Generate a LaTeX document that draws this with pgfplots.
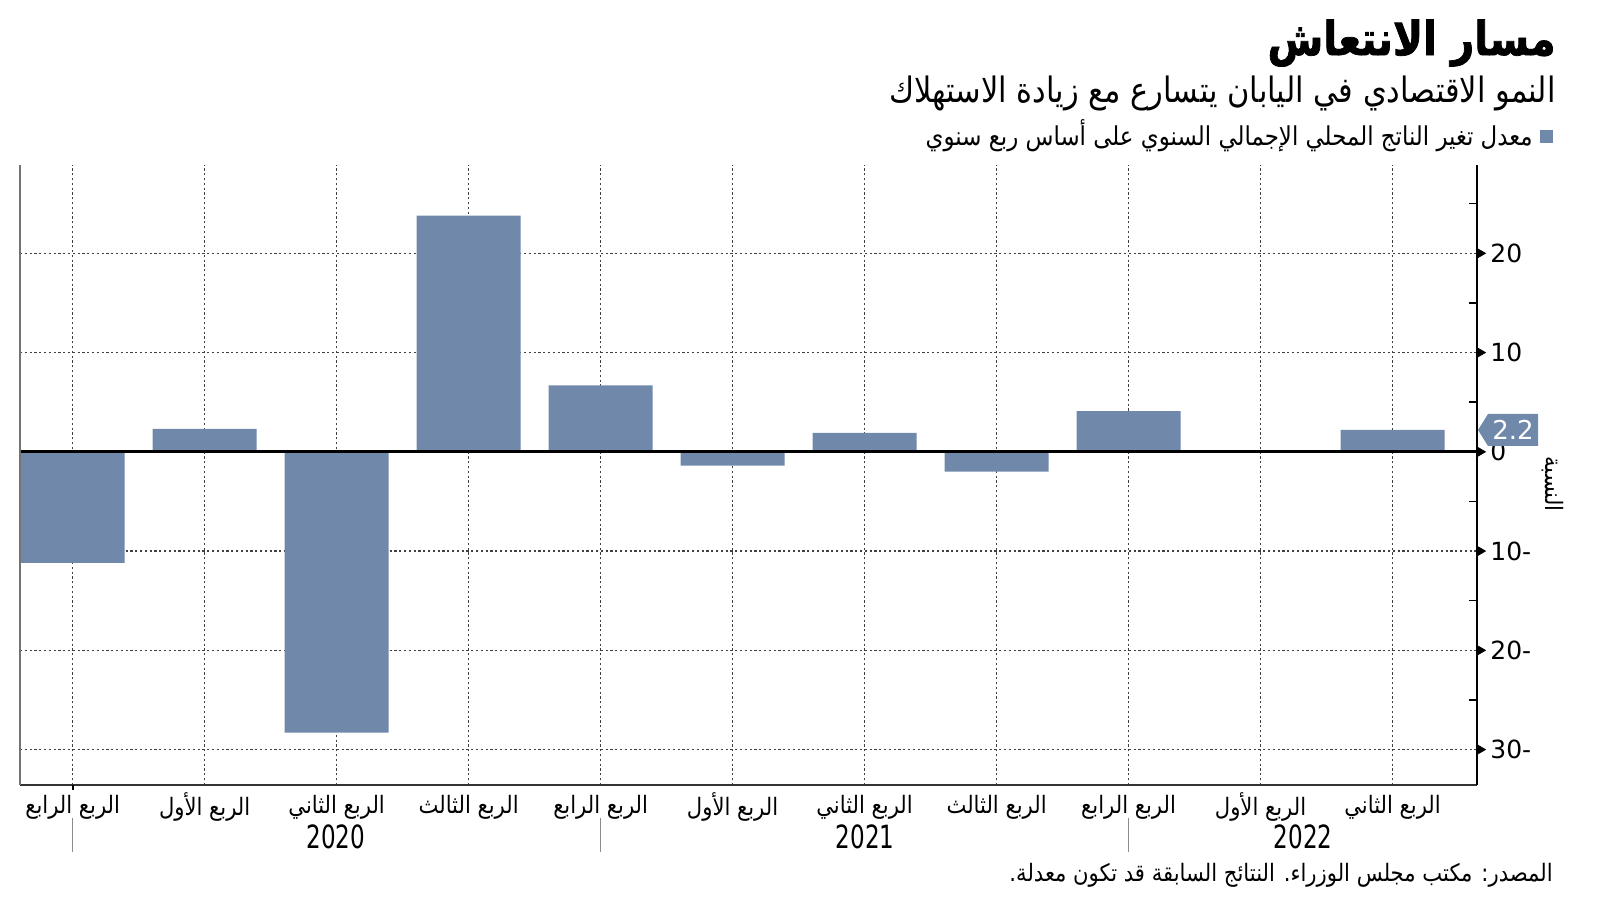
\documentclass[border=0pt]{standalone}
\usepackage{fontspec}
\usepackage{pgfplots}
\pgfplotsset{compat=1.18}
\TeXXeTstate=1
\setmainfont{DejaVu Sans}
\newfontfamily\arabictitle[Script=Arabic,FakeStretch=0.87]{DejaVu Sans}
\newfontfamily\arabicheavy[Script=Arabic,FakeStretch=0.86,FakeBold=1.6]{DejaVu Sans Bold}
\newfontfamily\arabicmed[Script=Arabic,FakeStretch=0.88]{DejaVu Sans}
\newfontfamily\yearfont[FakeStretch=0.72]{DejaVu Sans}
\newfontfamily\numfont{DejaVu Sans}
\definecolor{barcol}{RGB}{112,137,170}
\begin{document}
\begin{tikzpicture}
\begin{axis}[
  at={(0pt,0pt)}, anchor=south west, scale only axis,
  width=728.5pt, height=310pt,
  xmin=-0.399, xmax=10.64, ymin=-33.57, ymax=28.9,
  axis x line*=bottom, axis y line*=right,
  x axis line style={draw=black!80, line width=0.8pt, -},
  y axis line style={draw=black, line width=1pt, -},
  xtick={0,...,10},
  xticklabels={{\beginR الربع الرابع\endR},{\beginR الربع الأول\endR},{\beginR الربع الثاني\endR},{\beginR الربع الثالث\endR},{\beginR الربع الرابع\endR},{\beginR الربع الأول\endR},{\beginR الربع الثاني\endR},{\beginR الربع الثالث\endR},{\beginR الربع الرابع\endR},{\beginR الربع الأول\endR},{\beginR الربع الثاني\endR}},
  xticklabel style={font=\arabicmed\fontsize{12}{14}\selectfont, anchor=center, yshift=-11pt, inner sep=0pt},
  ytick={-30,-20,-10,0,10,20},
  yticklabels={30-,20-,10-,0,10,20},
  minor ytick={-25,-15,-5,5,15,25},
  tick align=inside,
  major tick length=0pt, minor tick length=4pt,
  minor tick style={black, line width=0.8pt},
  yticklabel style={font=\numfont\fontsize{12.5}{14}\selectfont, anchor=west, inner sep=0pt, xshift=6.5pt},
  xmajorgrids, ymajorgrids,
  grid style={dash pattern=on 1.1pt off 1.3pt, black!75, line width=0.65pt},
  clip=false,
]
\addplot[ybar, bar width=52pt, fill=barcol, draw=none] coordinates {
  (0,-11.2) (1,2.3) (2,-28.3) (3,23.8) (4,6.7) (5,-1.4)
  (6,1.9) (7,-2.0) (8,4.1) (9,0.1) (10,2.2)
};
\draw[black, line width=1.5pt] (axis cs:-0.399,0) -- (axis cs:10.64,0);
\draw[black!55, line width=1pt] (rel axis cs:0,0) -- (rel axis cs:0,1);
\addplot[only marks, mark=triangle*, mark size=2.8pt, black,
  mark options={xshift=1.4pt, rotate=-90}] coordinates {
  (10.64,-30) (10.64,-20) (10.64,-10) (10.64,0) (10.64,10) (10.64,20)
};
\fill[barcol] (axis cs:10.64,2.2) ++(0.5pt,0pt) -- ++(5pt,8pt) -- ++(25pt,0pt) -- ++(0pt,-16pt) -- ++(-25pt,0pt) -- cycle;
\node[text=white, font=\numfont\fontsize{13}{15}\selectfont, inner sep=0pt] at ([xshift=18pt]axis cs:10.64,2.2) {2.2};
\end{axis}
% title block
\node[anchor=east, inner sep=0pt] at (768pt,371pt) {\arabicheavy\fontsize{23.5}{27}\selectfont\beginR مسار الانتعاش\endR};
\node[anchor=east, inner sep=0pt] at (768pt,346pt) {\arabictitle\fontsize{17.5}{20}\selectfont\beginR النمو الاقتصادي في اليابان يتسارع مع زيادة الاستهلاك\endR};
\fill[barcol] (760pt,321pt) rectangle (766.5pt,327.5pt);
\node[anchor=east, inner sep=0pt] at (756.5pt,324.5pt) {\arabicmed\fontsize{13}{15}\selectfont\beginR معدل تغير الناتج المحلي الإجمالي السنوي على أساس ربع سنوي\endR};
% years
\node[inner sep=0pt] at (158pt,-26pt) {\yearfont\fontsize{16}{18}\selectfont 2020};
\node[inner sep=0pt] at (422.5pt,-26pt) {\yearfont\fontsize{16}{18}\selectfont 2021};
\node[inner sep=0pt] at (641.5pt,-26pt) {\yearfont\fontsize{16}{18}\selectfont 2022};
\foreach \xx in {26.35,290.35,554.35} {\draw[black!45, line width=0.6pt] (\xx pt,-16.5pt) -- (\xx pt,-33.5pt);}
\draw[black, line width=1.2pt] (26.35pt,0pt) -- (26.35pt,-2.5pt);
% y label
\node[rotate=-90, inner sep=0pt] at (766.5pt,150.5pt) {\arabicmed\fontsize{12}{14}\selectfont\beginR النسبة\endR};
% source
\node[anchor=east, inner sep=0pt] at (766.5pt,-45pt) {\arabicmed\fontsize{12}{14}\selectfont\beginR المصدر: مكتب مجلس الوزراء. النتائج السابقة قد تكون معدلة.\endR};
\pgfresetboundingbox
\path[use as bounding box] (-10pt,-58pt) rectangle (790pt,392.5pt);
\end{tikzpicture}
\end{document}
